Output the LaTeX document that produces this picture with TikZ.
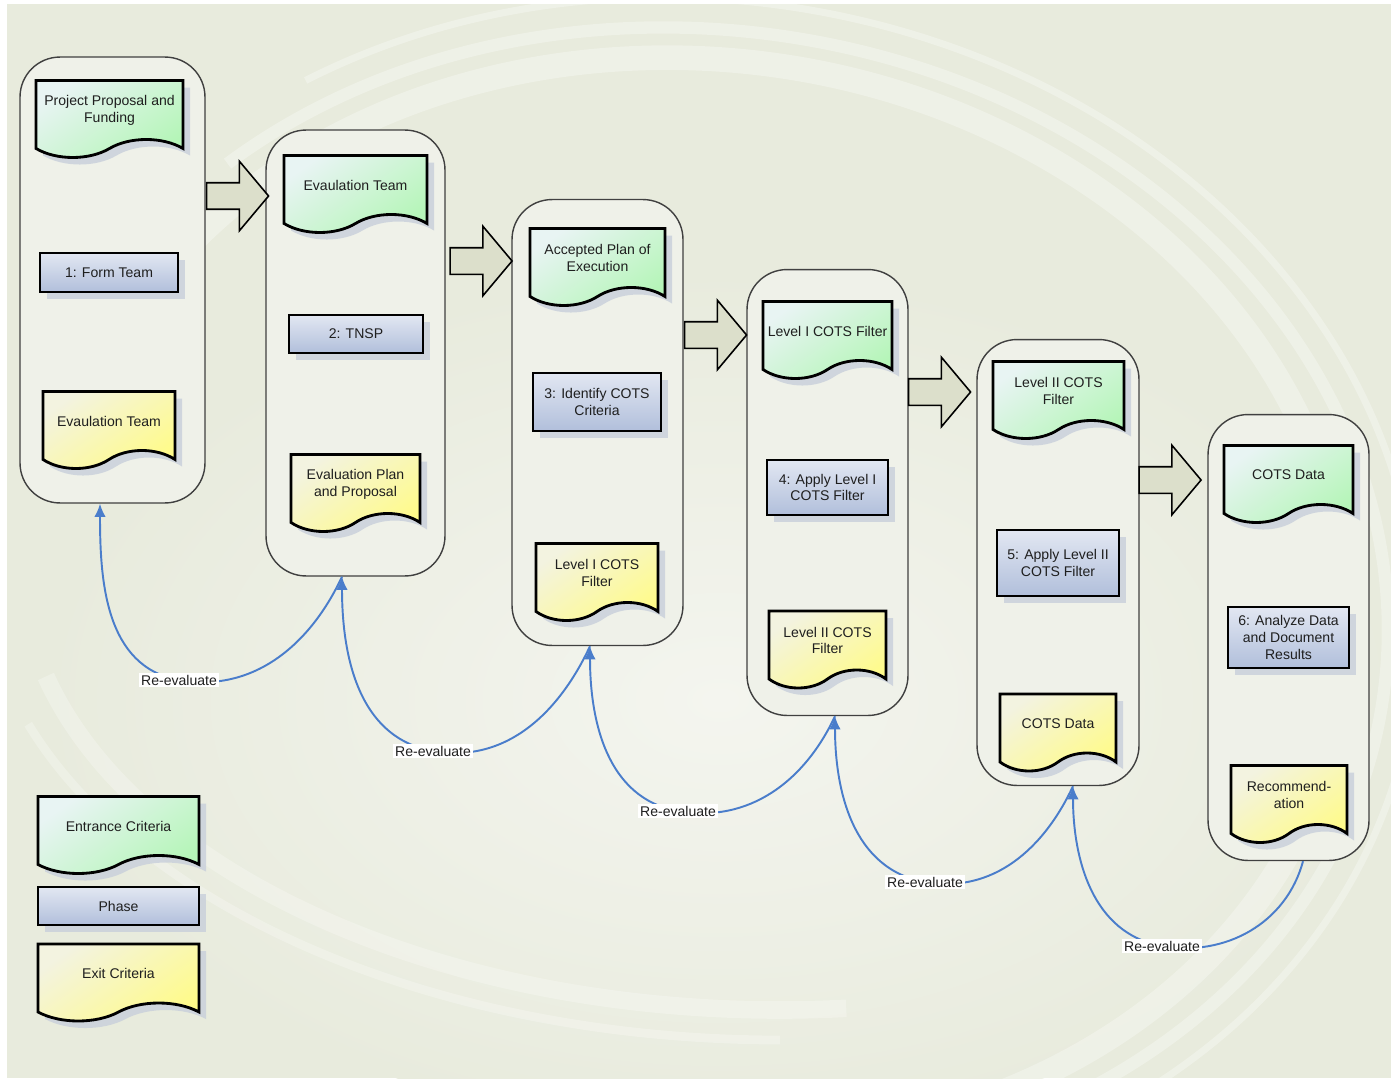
\documentclass[tikz,border=0pt]{standalone}
\usepackage{fontspec}
\setmainfont{Liberation Sans}
\usetikzlibrary{shapes.symbols,shapes.arrows,shadows,arrows.meta}

\definecolor{Bg}{RGB}{232,235,221}
\definecolor{BgLight}{RGB}{244,245,239}
\definecolor{GreenA}{RGB}{232,244,243}
\definecolor{GreenB}{RGB}{181,245,184}
\definecolor{YellowA}{RGB}{243,243,224}
\definecolor{YellowB}{RGB}{255,251,138}
\definecolor{BlueA}{RGB}{226,231,242}
\definecolor{BlueB}{RGB}{177,191,219}
\definecolor{ShadowCol}{RGB}{200,207,219}
\definecolor{ArrowFill}{RGB}{220,223,203}
\definecolor{StageFill}{RGB}{239,241,233}
\definecolor{StageLine}{RGB}{64,64,64}
\definecolor{ReBlue}{RGB}{74,125,203}
\definecolor{TextCol}{RGB}{31,31,31}

\newcommand{\DiagFont}{\fontsize{8}{9.6}\selectfont}

\begin{document}
\begin{tikzpicture}[x=0.02cm,y=0.02cm]
	%\draw[help lines] (0,0) grid (1391,-1078);
	\tikzset{
		Stage/.style = {rectangle, rounded corners=0.8cm, draw=StageLine,
			line width=0.8pt, fill=StageFill, minimum height=8.92cm},
		Doc/.style = {shape=tape, tape bend top=none, tape bend bottom=in and out,
			tape bend height=0.36cm, draw=black, line width=1.6pt,
			minimum height=1.54cm, inner sep=2pt, align=center,
			font=\DiagFont, text=TextCol,
			drop shadow={shadow xshift=4pt, shadow yshift=-4pt, fill=ShadowCol, opacity=0.8}},
		EntryDoc/.style = {Doc, top color=GreenA, bottom color=GreenB, shading angle=35},
		ExitDoc/.style = {Doc, top color=YellowA, bottom color=YellowB, shading angle=35},
		Phase/.style = {rectangle, draw=black, line width=1.6pt,
			top color=BlueA, bottom color=BlueB, align=center,
			font=\DiagFont, text=TextCol, inner sep=2pt,
			drop shadow={shadow xshift=4pt, shadow yshift=-4pt, fill=ShadowCol, opacity=0.8}},
		BlockArrow/.style = {single arrow, draw=black, line width=0.9pt, fill=ArrowFill,
			minimum height=1.24cm, inner xsep=0pt, inner ysep=0.25cm,
			single arrow head extend=0.43cm, single arrow tip angle=100,
			single arrow head indent=0pt},
		ReEval/.style = {draw=ReBlue, line width=1.1pt, -{Latex[length=7.5pt,width=6.5pt]}},
		ReEvalLabel/.style = {fill=white, font=\DiagFont, text=TextCol, inner sep=1pt},
		Swirl/.style = {draw=white, opacity=0.3}
	}
	\useasboundingbox (0,0) rectangle (1391,-1078);

	% background
	\fill[Bg] (7,-4) rectangle (1391,-1078);
	\begin{scope}
		\clip (7,-4) rectangle (1391,-1078);
		\shade[inner color=BgLight, outer color=Bg] (720,-700) ellipse (680 and 430);
		\begin{scope}[rotate around={-8:(700,-600)}]
			\draw[Swirl, line width=14pt] (700,-600) ++(150:650 and 540) arc[start angle=150, end angle=-100, x radius=650, y radius=540];
			\draw[Swirl, line width=7pt] (700,-600) ++(140:690 and 570) arc[start angle=140, end angle=-95, x radius=690, y radius=570];
			\draw[Swirl, line width=4pt] (700,-600) ++(130:720 and 600) arc[start angle=130, end angle=-90, x radius=720, y radius=600];
		\end{scope}
		\draw[Swirl, line width=10pt, opacity=0.25] (780,-560) ++(195:760 and 450) arc[start angle=195, end angle=275, x radius=760, y radius=450];
		\draw[Swirl, line width=5pt, opacity=0.25] (780,-560) ++(200:800 and 480) arc[start angle=200, end angle=270, x radius=800, y radius=480];
	\end{scope}

	% stages
	\node[Stage, minimum width=3.70cm] (s1) at (112.5,-280) {};
	\node[Stage, minimum width=3.58cm] (s2) at (355.5,-353) {};
	\node[Stage, minimum width=3.42cm] (s3) at (597.5,-422.5) {};
	\node[Stage, minimum width=3.22cm] (s4) at (827.5,-492.5) {};
	\node[Stage, minimum width=3.24cm] (s5) at (1058,-562.5) {};
	\node[Stage, minimum width=3.22cm] (s6) at (1288.5,-637.5) {};

	% hand over to the next stage
	\node[BlockArrow] (a1) at (232,-196) {};
	\node[BlockArrow] (a2) at (475.5,-261) {};
	\node[BlockArrow] (a3) at (710,-335) {};
	\node[BlockArrow] (a4) at (934,-392) {};
	\node[BlockArrow] (a5) at (1164.5,-480) {};

	% entrance criteria
	\node[EntryDoc, minimum width=2.94cm] (e1) at (109.5,-110) {Project Proposal and\\Funding};
	\node[EntryDoc, minimum width=2.86cm] (e2) at (355.5,-185) {Evaulation Team};
	\node[EntryDoc, minimum width=2.70cm] (e3) at (597.5,-258) {Accepted Plan of\\Execution};
	\node[EntryDoc, minimum width=2.58cm] (e4) at (827.5,-331) {Level I COTS Filter};
	\node[EntryDoc, minimum width=2.62cm] (e5) at (1058.5,-391) {Level II COTS\\Filter};
	\node[EntryDoc, minimum width=2.58cm] (e6) at (1288.5,-475) {COTS Data};

	% phases
	\node[Phase, minimum width=2.76cm, minimum height=0.78cm] (p1) at (109,-272.5) {1: Form Team};
	\node[Phase, minimum width=2.68cm, minimum height=0.76cm] (p2) at (356,-334) {2: TNSP};
	\node[Phase, minimum width=2.56cm, minimum height=1.16cm] (p3) at (597,-402) {3: Identify COTS\\Criteria};
	\node[Phase, minimum width=2.42cm, minimum height=1.10cm] (p4) at (827.5,-487.5) {4: Apply Level I\\COTS Filter};
	\node[Phase, minimum width=2.44cm, minimum height=1.32cm] (p5) at (1058,-563) {5: Apply Level II\\COTS Filter};
	\node[Phase, minimum width=2.42cm, minimum height=1.22cm] (p6) at (1288.5,-637.5) {6: Analyze Data\\and Document\\Results};

	% exit criteria
	\node[ExitDoc, minimum width=2.64cm] (x1) at (109,-421) {Evaulation Team};
	\node[ExitDoc, minimum width=2.58cm] (x2) at (355.5,-484) {Evaluation Plan\\and Proposal};
	\node[ExitDoc, minimum width=2.44cm] (x3) at (597,-573) {Level I COTS\\Filter};
	\node[ExitDoc, minimum width=2.34cm] (x4) at (827.5,-640.5) {Level II COTS\\Filter};
	\node[ExitDoc, minimum width=2.32cm] (x5) at (1058,-723.5) {COTS Data};
	\node[ExitDoc, minimum width=2.32cm] (x6) at (1289,-795) {Recommend-\\ation};

	% legend
	\node[EntryDoc, minimum width=3.22cm] (le) at (118.5,-826) {Entrance Criteria};
	\node[Phase, minimum width=3.22cm, minimum height=0.76cm] (lp) at (118.5,-906) {Phase};
	\node[ExitDoc, minimum width=3.22cm] (lx) at (118.5,-973.5) {Exit Criteria};

	% re-evaluate loops
	\coordinate (r1) at (179,-680);
	\coordinate (r2) at (433,-751);
	\coordinate (r3) at (678,-811);
	\coordinate (r4) at (925,-882);
	\coordinate (r5) at (1162,-946);
	\draw[ReEval] ([xshift=-0.27cm]s2.south) to[out=-115,in=-10] (r1) node[ReEvalLabel] (l1) {Re-evaluate}
		to[out=170,in=-90] ([xshift=-0.25cm]s1.south);
	\draw[ReEval] ([xshift=-0.15cm]s3.south) to[out=-115,in=-10] (r2) node[ReEvalLabel] (l2) {Re-evaluate}
		to[out=170,in=-90] ([xshift=-0.27cm]s2.south);
	\draw[ReEval] ([xshift=0.15cm]s4.south) to[out=-115,in=-10] (r3) node[ReEvalLabel] (l3) {Re-evaluate}
		to[out=170,in=-90] ([xshift=-0.15cm]s3.south);
	\draw[ReEval] ([xshift=0.3cm]s5.south) to[out=-115,in=-10] (r4) node[ReEvalLabel] (l4) {Re-evaluate}
		to[out=170,in=-90] ([xshift=0.15cm]s4.south);
	\draw[ReEval] ([xshift=0.29cm]s6.south) to[out=-105,in=-10] (r5) node[ReEvalLabel] (l5) {Re-evaluate}
		to[out=170,in=-90] ([xshift=0.3cm]s5.south);
\end{tikzpicture}
\end{document}
